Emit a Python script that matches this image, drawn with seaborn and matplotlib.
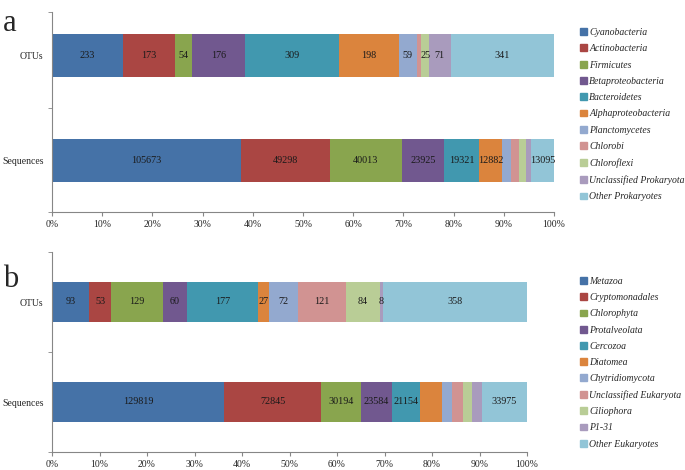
import numpy as np
import pandas as pd
import matplotlib
matplotlib.use('Agg')
import matplotlib.pyplot as plt
import matplotlib.patches as mpatches
from matplotlib.ticker import FixedLocator, PercentFormatter
import seaborn as sns

# Panel a - prokaryotes
prok_taxa = ['Cyanobacteria', 'Actinobacteria', 'Firmicutes', 'Betaproteobacteria',
             'Bacteroidetes', 'Alphaproteobacteria', 'Planctomycetes', 'Chlorobi',
             'Chloroflexi', 'Unclassified Prokaryota', 'Other Prokaryotes']
prok_otus = [233, 173, 54, 176, 309, 198, 59, 15, 25, 71, 341]
prok_seqs = [105673, 49298, 40013, 23925, 19321, 12882, 5170, 4010, 4230, 2380, 13095]
prok_otus_show = [0, 1, 2, 3, 4, 5, 6, 8, 9, 10]
prok_seqs_show = [0, 1, 2, 3, 4, 5, 10]

# Panel b - eukaryotes
euk_taxa = ['Metazoa', 'Cryptomonadales', 'Chlorophyta', 'Protalveolata', 'Cercozoa',
            'Diatomea', 'Chytridiomycota', 'Unclassified Eukaryota', 'Ciliophora',
            'P1-31', 'Other Eukaryotes']
euk_otus = [93, 53, 129, 60, 177, 27, 72, 121, 84, 8, 358]
euk_seqs = [129819, 72845, 30194, 23584, 21154, 16200, 7900, 7900, 7200, 7200, 33975]
euk_otus_show = list(range(11))
euk_seqs_show = [0, 1, 2, 3, 4, 10]

rows = ['OTUs', 'Sequences']

colors = ['#4572A7', '#AA4643', '#89A54E', '#71588F', '#4198AF', '#DB843D',
          '#93A9CF', '#D19392', '#B9CD96', '#A99BBD', '#92C5D7']

sns.set_style("white")
plt.rcParams['font.family'] = ['Liberation Serif', 'DejaVu Serif']
plt.rcParams['font.size'] = 7

fig = plt.figure(figsize=(6.85, 4.7), dpi=100)


def stacked_panel(ax, taxa, otus, seqs, show_otus, show_seqs, bar_w, ylim):
    df = pd.DataFrame({'OTUs': otus, 'Sequences': seqs}, index=taxa)
    pct = df / df.sum() * 100
    cum = pct.cumsum()
    # draw longest cumulative first so the shorter ones sit on top
    for i in reversed(range(len(taxa))):
        d = pd.DataFrame({'row': rows, 'val': cum.iloc[i].values})
        sns.barplot(data=d, x='val', y='row', orient='h', color=colors[i],
                    width=bar_w, saturation=1, ax=ax, linewidth=0, zorder=2)
    for r, (col, show) in enumerate(zip(rows, [show_otus, show_seqs])):
        for i in show:
            mid = cum[col].iloc[i] - pct[col].iloc[i] / 2
            ax.text(mid, r, str(df[col].iloc[i]), ha='center', va='center',
                    fontsize=7.3, color='#1a1a1a', zorder=3)
    ax.set_xlim(0, 100)
    ax.set_ylim(*ylim)
    ax.set_xlabel('')
    ax.set_ylabel('')
    ax.xaxis.set_major_locator(FixedLocator(np.arange(0, 101, 10)))
    ax.xaxis.set_major_formatter(PercentFormatter(decimals=0))
    ax.set_yticks([0, 1])
    ax.set_yticklabels(rows)
    ax.yaxis.set_minor_locator(FixedLocator([ylim[1], 0.5, ylim[0]]))
    ax.tick_params(axis='y', which='major', length=0, pad=6, labelsize=7)
    ax.tick_params(axis='y', which='minor', length=3, color='#868686', left=True)
    ax.tick_params(axis='x', which='major', length=3, color='#868686', bottom=True,
                   labelsize=7, pad=3)
    for s in ['top', 'right']:
        ax.spines[s].set_visible(False)
    for s in ['left', 'bottom']:
        ax.spines[s].set_color('#868686')
        ax.spines[s].set_linewidth(0.8)


def add_legend(taxa, top_px, spacing):
    handles = [mpatches.Patch(color=c, label=t) for c, t in zip(colors, taxa)]
    fig.legend(handles=handles, loc='upper left',
               bbox_to_anchor=(580 / 685, 1 - top_px / 470), frameon=False,
               prop={'family': 'Liberation Serif', 'style': 'italic', 'size': 7},
               handlelength=0.7, handleheight=0.7, handletextpad=0.25,
               labelspacing=spacing, borderpad=0, borderaxespad=0)


ax_a = fig.add_axes([52 / 685, 1 - 212 / 470, (554 - 52) / 685, 200 / 470])
stacked_panel(ax_a, prok_taxa, prok_otus, prok_seqs, prok_otus_show, prok_seqs_show,
              0.41, (1.495, -0.41))
add_legend(prok_taxa, 28, 0.75)

ax_b = fig.add_axes([52 / 685, 1 - 452 / 470, (527 - 52) / 685, 200 / 470])
stacked_panel(ax_b, euk_taxa, euk_otus, euk_seqs, euk_otus_show, euk_seqs_show,
              0.4, (1.5, -0.5))
add_legend(euk_taxa, 277, 0.74)

fig.text(3 / 685, 1 - 31 / 470, 'a', fontsize=22, va='baseline', ha='left')
fig.text(3 / 685, 1 - 287 / 470, 'b', fontsize=22, va='baseline', ha='left')

fig.savefig('out.png', dpi=100)
